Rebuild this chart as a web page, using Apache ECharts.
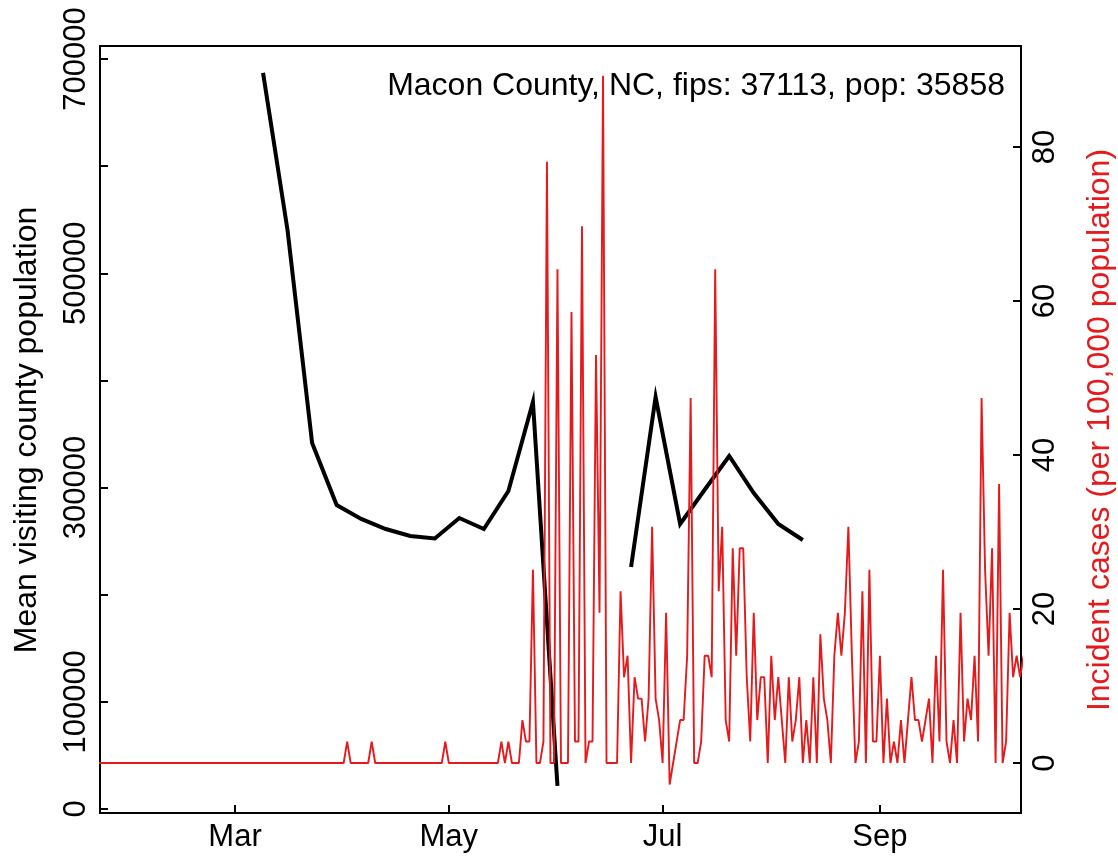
<!DOCTYPE html>
<html>
<head>
<meta charset="utf-8">
<script src="https://cdn.jsdelivr.net/npm/echarts@6/dist/echarts.min.js"></script>
<style>
html,body{margin:0;padding:0;background:#fff;}
#chart{width:1118px;height:858px;}
</style>
</head>
<body>
<div id="chart"></div>
<script>
// ---- Data ----
const chartTitle = 'Macon County, NC, fips: 37113, pop: 35858';
const leftAxisTitle = 'Mean visiting county population';
const rightAxisTitle = 'Incident cases (per 100,000 population)';

// Weekly mean visiting county population (black line)
const weekDates = ['2020-03-09','2020-03-16','2020-03-23','2020-03-30','2020-04-06','2020-04-13',
  '2020-04-20','2020-04-27','2020-05-04','2020-05-11','2020-05-18','2020-05-25','2020-06-01',
  '2020-06-08','2020-06-15','2020-06-22','2020-06-29','2020-07-06','2020-07-13','2020-07-20',
  '2020-07-27','2020-08-03','2020-08-10'];
const visitingPop = [687000, 540000, 341600, 283700, 270700, 261300,
  254800, 252500, 271600, 261300, 296800, 379900, 21500,
  null, null, 225900, 384500, 266000, 298000, 329500,
  294900, 266000, 251100];

// Daily incident cases per 100,000 (red line), consecutive days from incidentStart
const incidentStart = '2020-01-20';
const incidentPer100k = [
  0,0,0,0,0,0,0,0,0,0, 0,0,0,0,0,0,0,0,0,0, 0,0,0,0,0,0,0,0,0,0,
  0,0,0,0,0,0,0,0,0,0, 0,0,0,0,0,0,0,0,0,0, 0,0,0,0,0,0,0,0,0,0,
  0,0,0,0,0,0,0,0,0,0, 0,0,0,
  2.79, 0,0,0,0,0,0, 2.79,
  0,0,0,0,0,0,0,0,0,0, 0,0,0,0,0,0,0,0,0,0,
  2.79, 0,0,0,0,0,0,0,0,0,0,0,0,0,0,0,
  2.79, 0, 2.79, 0, 0, 0,
  5.58, 2.79, 2.79, 25.10, 0, 0, 2.79, 78.09, 0, 0,
  64.14, 0, 0, 0, 58.56, 2.79, 2.79, 69.72, 0, 2.79,
  2.79, 52.99, 19.52, 89.24, 0, 0, 0, 0, 22.31, 11.15,
  13.94, 0, 11.15, 8.37, 8.37, 2.79, 8.37, 30.68, 8.37, 5.58,
  0, 19.52, -2.79, 0, 2.79, 5.58, 5.58, 13.94, 47.41, 0,
  0, 2.79, 13.94, 13.94, 11.15, 64.14, 22.31, 30.68, 5.58, 2.79,
  27.89, 13.94, 27.89, 27.89, 11.15, 2.79, 19.52, 5.58, 11.15, 11.15,
  0, 13.94, 5.58, 11.15, 5.58, 0, 11.15, 2.79, 5.58, 11.15,
  0, 5.58, 0, 11.15, 0, 16.73, 8.37, 5.58, 0, 13.94,
  19.52, 13.94, 19.52, 30.68, 13.94, 0, 2.79, 22.31, 0, 25.10,
  2.79, 2.79, 13.94, 0, 8.37, 0, 2.79, 0, 5.58, 0,
  5.58, 11.15, 5.58, 5.58, 2.79, 5.58, 8.37, 0, 13.94, 2.79,
  25.10, 2.79, 0, 5.58, 0, 19.52, 2.79, 8.37, 5.58, 13.94,
  2.79, 47.41, 25.10, 13.94, 27.89, 0, 36.25, 0, 2.79, 19.52,
  11.15, 13.94, 11.15, 13.94
];

// Axis ticks / labels
const monthTickDates = ['2020-03-01','2020-05-01','2020-07-01','2020-09-01'];
const monthTickLabels = ['Mar','May','Jul','Sep'];
const leftTicks = [0,100000,200000,300000,400000,500000,600000,700000];
const leftLabels = [0,100000,300000,500000,700000];
const rightTicks = [0,20,40,60,80];

// ---- Helpers: dates -> day offset from 2020-03-01 ----
const DAY = 86400000;
const ORIGIN = Date.parse('2020-03-01');
const dayOf = s => (Date.parse(s) - ORIGIN) / DAY;

const blackData = weekDates.map((d, i) => [dayOf(d), visitingPop[i]]);
const startDay = dayOf(incidentStart);
const redData = incidentPer100k.map((v, i) => [startDay + i, v]);
const monthTickDays = monthTickDates.map(dayOf);
const monthLabelMap = {};
monthTickDays.forEach((d, i) => { monthLabelMap[d] = monthTickLabels[i]; });

const FONT = '"Liberation Sans", Arial, Helvetica, sans-serif';
const RED = '#e41a1c';

const chart = echarts.init(document.getElementById('chart'), null, {renderer: 'canvas'});
chart.setOption({
  animation: false,
  backgroundColor: '#fff',
  textStyle: {fontFamily: FONT},
  grid: {left: 100, right: 97, top: 46, bottom: 45, show: true, borderColor: '#000', borderWidth: 2, backgroundColor: 'transparent'},
  xAxis: {
    type: 'value',
    min: -38.52, max: 224.25,
    splitLine: {show: false},
    axisLine: {show: false, onZero: false},
    axisTick: {show: true, inside: true, length: 8, lineStyle: {color: '#000', width: 2}, customValues: monthTickDays},
    axisLabel: {
      customValues: monthTickDays,
      margin: 9,
      color: '#000', fontSize: 31, fontFamily: FONT,
      formatter: v => monthLabelMap[v] || ''
    }
  },
  yAxis: [
    {
      type: 'value', position: 'left',
      min: -3733, max: 712133,
      splitLine: {show: false},
      axisLine: {show: false, onZero: false},
      axisTick: {show: true, inside: true, length: 8, lineStyle: {color: '#000', width: 2}, customValues: leftTicks},
      axisLabel: {customValues: leftLabels, rotate: 90, margin: 8, color: '#000', fontSize: 31, fontFamily: FONT,
        formatter: v => String(v)}
    },
    {
      type: 'value', position: 'right',
      min: -6.49, max: 93.12,
      splitLine: {show: false},
      axisLine: {show: false, onZero: false},
      axisTick: {show: true, inside: true, length: 8, lineStyle: {color: '#000', width: 2}, customValues: rightTicks},
      axisLabel: {customValues: rightTicks, rotate: 90, margin: 9, color: '#000', fontSize: 31, fontFamily: FONT,
        formatter: v => String(v)}
    }
  ],
  series: [
    {
      type: 'line', name: 'visiting', yAxisIndex: 0, data: blackData,
      symbol: 'none', connectNulls: false, clip: true,
      lineStyle: {color: '#000', width: 4, join: 'miter'}, z: 2
    },
    {
      type: 'line', name: 'incidence', yAxisIndex: 1, data: redData,
      symbol: 'none', clip: true,
      lineStyle: {color: RED, width: 1.9}, z: 3
    }
  ],
  graphic: [
    {type: 'text', x: 1005, y: 86, style: {text: chartTitle, font: '32px ' + FONT, fill: '#000', align: 'right', verticalAlign: 'middle'}},
    {type: 'text', x: 27, y: 430, rotation: Math.PI / 2, style: {text: leftAxisTitle, font: '32px ' + FONT, fill: '#000', align: 'center', verticalAlign: 'middle'}},
    {type: 'text', x: 1100, y: 430, rotation: Math.PI / 2, style: {text: rightAxisTitle, font: '32px ' + FONT, fill: RED, align: 'center', verticalAlign: 'middle'}}
  ]
});
</script>
</body>
</html>
